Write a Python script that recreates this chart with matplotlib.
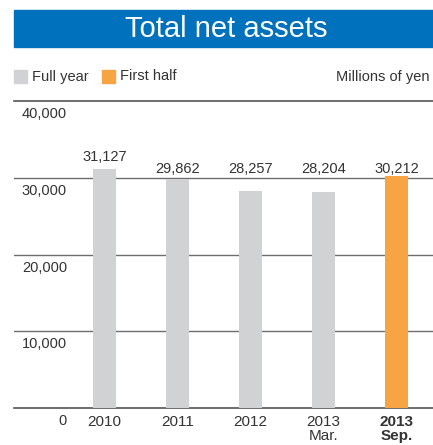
import matplotlib.pyplot as plt
from matplotlib.patches import Rectangle

# data
categories = ["2010", "2011", "2012", "2013\nMar.", "2013\nSep."]
values = [31127, 29862, 28257, 28204, 30212]
value_labels = ["31,127", "29,862", "28,257", "28,204", "30,212"]
yticks = [10000, 20000, 30000, 40000]
ytick_labels = ["10,000", "20,000", "30,000", "40,000"]

W, H = 433, 445
GRAY = "#D1D2D4"
ORANGE = "#F7A445"
BLUE = "#0071BC"
TXT = "#333333"

plt.rcParams['font.family'] = ['Liberation Sans', 'DejaVu Sans']

fig = plt.figure(figsize=(W / 100, H / 100), dpi=100)

def fx(px):
    return px / W

def fy(py):
    return 1 - py / H

# title bar
fig.patches.append(Rectangle((fx(14), fy(47)), 1 - fx(14), 37 / H,
                             transform=fig.transFigure, color=BLUE, zorder=0))
fig.text(fx(226), fy(29), "Total net assets", color="white", fontsize=21,
         ha="center", va="center")

# legend
fig.patches.append(Rectangle((fx(14), fy(83)), 13 / W, 13 / H,
                             transform=fig.transFigure, color=GRAY))
fig.text(fx(32), fy(76.5), "Full year", fontsize=10.5, color=TXT, va="center")
fig.patches.append(Rectangle((fx(102), fy(83)), 13 / W, 13 / H,
                             transform=fig.transFigure, color=ORANGE))
fig.text(fx(120), fy(76.5), "First half", fontsize=10.5, color=TXT, va="center")
fig.text(fx(430), fy(77), "Millions of yen", fontsize=10.5, color=TXT,
         ha="right", va="center")

# axes
ax = fig.add_axes([fx(14), fy(408), 1 - fx(14), (408 - 101) / H])
x = list(range(len(categories)))
colors = [GRAY] * 4 + [ORANGE]
ax.bar(x, values, width=23 / 73, color=colors, zorder=3)

ax.set_xlim((14 - 104.5) / 73, (433 - 104.5) / 73)
ax.set_ylim(0, 40000)

for v in yticks[:-1]:
    ax.axhline(v, color="#6d6d6d", lw=1.0, zorder=1)

for s in ["left", "right"]:
    ax.spines[s].set_visible(False)
for s in ["top", "bottom"]:
    ax.spines[s].set_color("#555555")
    ax.spines[s].set_linewidth(1.2)

ax.set_yticks([])
ax.set_xticks(x)
ax.set_xticklabels(categories, fontsize=11, color=TXT, linespacing=1.05)
ax.tick_params(axis="x", length=0, pad=5)
ax.get_xticklabels()[-1].set_fontweight("bold")

# y labels sit below gridlines
for v, lab in zip([0] + yticks, ["0"] + ytick_labels):
    ax.text((67 - 104.5) / 73, v - 1700, lab, fontsize=10.5, color=TXT,
            ha="right", va="center")

# value labels
for i, lab in enumerate(value_labels):
    ypos = 32700 if i == 0 else 31100
    ax.text(i, ypos, lab, fontsize=10.5, color=TXT, ha="center", va="center")

fig.savefig("out.png", dpi=100)
